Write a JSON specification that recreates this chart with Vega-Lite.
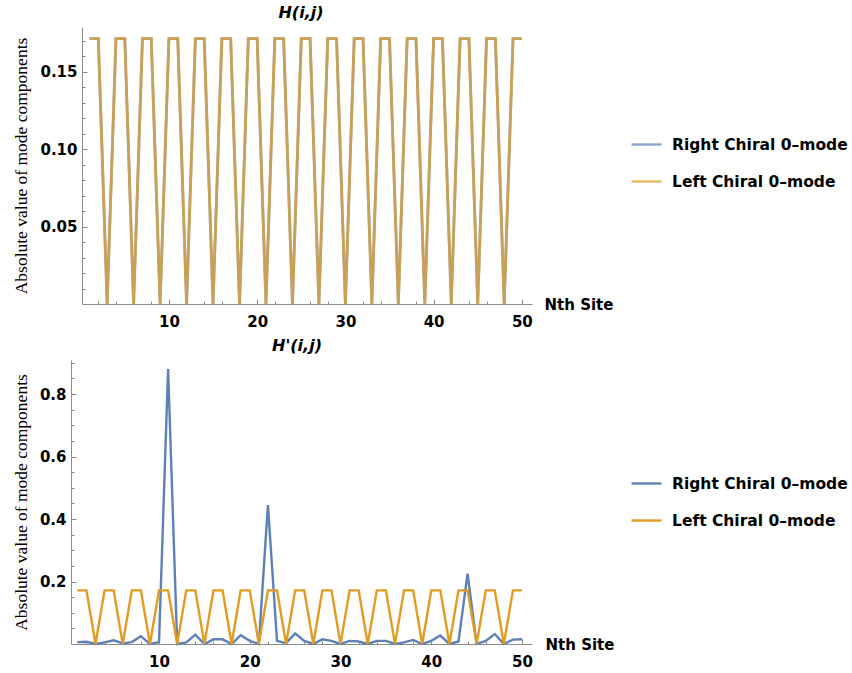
{
  "$schema": "https://vega.github.io/schema/vega-lite/v6.json",
  "padding": {"left": 12, "top": 5, "right": 0, "bottom": 0},
  "background": "white",
  "spacing": 9,
  "config": {
    "view": {"stroke": null},
    "axis": {"labelFont": "DejaVu Sans", "labelFontWeight": "bold", "labelFontSize": 15, "labelColor": "#000", "domainColor": "#8c8c8c", "tickColor": "#8c8c8c", "grid": false, "titleColor": "#000", "labelOverlap": false, "labelFlush": false}
  },
  "datasets": {
    "top": [
      {"site":1,"right":0.1715,"left":0.1715},{"site":2,"right":0.1715,"left":0.1715},{"site":3,"right":0,"left":0},
      {"site":4,"right":0.1715,"left":0.1715},{"site":5,"right":0.1715,"left":0.1715},{"site":6,"right":0,"left":0},
      {"site":7,"right":0.1715,"left":0.1715},{"site":8,"right":0.1715,"left":0.1715},{"site":9,"right":0,"left":0},
      {"site":10,"right":0.1715,"left":0.1715},{"site":11,"right":0.1715,"left":0.1715},{"site":12,"right":0,"left":0},
      {"site":13,"right":0.1715,"left":0.1715},{"site":14,"right":0.1715,"left":0.1715},{"site":15,"right":0,"left":0},
      {"site":16,"right":0.1715,"left":0.1715},{"site":17,"right":0.1715,"left":0.1715},{"site":18,"right":0,"left":0},
      {"site":19,"right":0.1715,"left":0.1715},{"site":20,"right":0.1715,"left":0.1715},{"site":21,"right":0,"left":0},
      {"site":22,"right":0.1715,"left":0.1715},{"site":23,"right":0.1715,"left":0.1715},{"site":24,"right":0,"left":0},
      {"site":25,"right":0.1715,"left":0.1715},{"site":26,"right":0.1715,"left":0.1715},{"site":27,"right":0,"left":0},
      {"site":28,"right":0.1715,"left":0.1715},{"site":29,"right":0.1715,"left":0.1715},{"site":30,"right":0,"left":0},
      {"site":31,"right":0.1715,"left":0.1715},{"site":32,"right":0.1715,"left":0.1715},{"site":33,"right":0,"left":0},
      {"site":34,"right":0.1715,"left":0.1715},{"site":35,"right":0.1715,"left":0.1715},{"site":36,"right":0,"left":0},
      {"site":37,"right":0.1715,"left":0.1715},{"site":38,"right":0.1715,"left":0.1715},{"site":39,"right":0,"left":0},
      {"site":40,"right":0.1715,"left":0.1715},{"site":41,"right":0.1715,"left":0.1715},{"site":42,"right":0,"left":0},
      {"site":43,"right":0.1715,"left":0.1715},{"site":44,"right":0.1715,"left":0.1715},{"site":45,"right":0,"left":0},
      {"site":46,"right":0.1715,"left":0.1715},{"site":47,"right":0.1715,"left":0.1715},{"site":48,"right":0,"left":0},
      {"site":49,"right":0.1715,"left":0.1715},{"site":50,"right":0.1715,"left":0.1715}
    ],
    "bottom": [
      {"site":1,"right":0.006,"left":0.1715},{"site":2,"right":0.007,"left":0.1715},{"site":3,"right":0,"left":0},
      {"site":4,"right":0.005,"left":0.1715},{"site":5,"right":0.012,"left":0.1715},{"site":6,"right":0.002,"left":0},
      {"site":7,"right":0.006,"left":0.1715},{"site":8,"right":0.025,"left":0.1715},{"site":9,"right":0,"left":0},
      {"site":10,"right":0.006,"left":0.1715},{"site":11,"right":0.88,"left":0.1715},{"site":12,"right":0,"left":0},
      {"site":13,"right":0.005,"left":0.1715},{"site":14,"right":0.03,"left":0.1715},{"site":15,"right":0,"left":0},
      {"site":16,"right":0.015,"left":0.1715},{"site":17,"right":0.015,"left":0.1715},{"site":18,"right":0,"left":0},
      {"site":19,"right":0.028,"left":0.1715},{"site":20,"right":0.01,"left":0.1715},{"site":21,"right":0,"left":0},
      {"site":22,"right":0.445,"left":0.1715},{"site":23,"right":0.01,"left":0.1715},{"site":24,"right":0.003,"left":0},
      {"site":25,"right":0.034,"left":0.1715},{"site":26,"right":0.01,"left":0.1715},{"site":27,"right":0,"left":0},
      {"site":28,"right":0.015,"left":0.1715},{"site":29,"right":0.01,"left":0.1715},{"site":30,"right":0,"left":0},
      {"site":31,"right":0.01,"left":0.1715},{"site":32,"right":0.008,"left":0.1715},{"site":33,"right":0,"left":0},
      {"site":34,"right":0.01,"left":0.1715},{"site":35,"right":0.01,"left":0.1715},{"site":36,"right":0,"left":0},
      {"site":37,"right":0.005,"left":0.1715},{"site":38,"right":0.013,"left":0.1715},{"site":39,"right":0,"left":0},
      {"site":40,"right":0.01,"left":0.1715},{"site":41,"right":0.027,"left":0.1715},{"site":42,"right":0,"left":0},
      {"site":43,"right":0.008,"left":0.1715},{"site":44,"right":0.225,"left":0.1715},{"site":45,"right":0,"left":0},
      {"site":46,"right":0.01,"left":0.1715},{"site":47,"right":0.032,"left":0.1715},{"site":48,"right":0,"left":0},
      {"site":49,"right":0.014,"left":0.1715},{"site":50,"right":0.015,"left":0.1715}
    ]
  },
  "vconcat": [
    {
      "width": 450,
      "height": 277,
      "title": {"text": "H(i,j)", "font": "DejaVu Sans", "fontSize": 16, "fontWeight": "bold", "fontStyle": "italic", "frame": "group", "anchor": "middle", "offset": 6, "dx": -6, "color": "#000"},
      "data": {"name": "top"},
      "transform": [{"fold": ["right", "left"], "as": ["mode", "value"]}],
      "layer": [
        {
          "mark": {"type": "line", "strokeWidth": 2.8, "opacity": 0.7},
          "encoding": {
            "x": {"field": "site", "type": "quantitative", "scale": {"domain": [0.15, 51.15], "nice": false, "zero": false},
              "axis": {"values": [10, 20, 30, 40, 50], "tickSize": -5, "labelPadding": 15, "title": "Nth Site", "titleFont": "DejaVu Sans", "titleFontWeight": "bold", "titleFontSize": 15, "titleX": 462, "titleY": 0, "titleAlign": "left", "titleBaseline": "middle", "titleAngle": 0}},
            "y": {"field": "value", "type": "quantitative", "scale": {"domain": [0, 0.179], "nice": false},
              "axis": {"values": [0.05, 0.1, 0.15], "format": ".2f", "tickSize": -5, "labelPadding": 10, "title": "Absolute value of mode components", "titleFont": "Liberation Serif", "titleFontWeight": "normal", "titleFontSize": 17.5, "titlePadding": 9}},
            "color": {"field": "mode", "type": "nominal",
              "scale": {"domain": ["right", "left"], "range": ["#5e81b5", "#e19c24"]},
              "legend": {"orient": "none", "legendX": 548, "legendY": 101, "title": null, "symbolType": "stroke", "symbolSize": 900, "symbolStrokeWidth": 2.4, "symbolOpacity": 0.7, "labelFont": "DejaVu Sans", "labelFontWeight": "bold", "labelFontSize": 15.5, "labelColor": "#000", "labelOffset": 9, "labelLimit": 0, "rowPadding": 12,
                "labelExpr": "datum.label == 'right' ? 'Right Chiral 0–mode' : 'Left Chiral 0–mode'"}}
          }
        },
        {
          "mark": {"type": "point", "opacity": 0},
          "encoding": {
            "x": {"field": "site", "type": "quantitative", "axis": {"orient": "bottom", "values": [2,4,6,8,12,14,16,18,22,24,26,28,32,34,36,38,42,44,46,48], "tickSize": -3, "labels": false, "domain": false, "title": null}},
            "y": {"field": "value", "type": "quantitative", "axis": {"orient": "left", "values": [0.01,0.02,0.03,0.04,0.06,0.07,0.08,0.09,0.11,0.12,0.13,0.14,0.16,0.17], "tickSize": -3, "labels": false, "domain": false, "title": null}}
          }
        }
      ],
      "resolve": {"axis": {"x": "independent", "y": "independent"}}
    },
    {
      "width": 450,
      "height": 284,
      "title": {"text": "H'(i,j)", "font": "DejaVu Sans", "fontSize": 16, "fontWeight": "bold", "fontStyle": "italic", "frame": "group", "anchor": "middle", "offset": 6, "dx": -10, "color": "#000"},
      "data": {"name": "bottom"},
      "transform": [{"fold": ["right", "left"], "as": ["mode", "value"]}],
      "layer": [
        {
          "mark": {"type": "line", "strokeWidth": 2.4},
          "encoding": {
            "x": {"field": "site", "type": "quantitative", "scale": {"domain": [0.3, 51.1], "range": [-11, 450], "nice": false, "zero": false},
              "axis": {"values": [10, 20, 30, 40, 50], "tickSize": -5, "labelPadding": 15, "title": "Nth Site", "titleFont": "DejaVu Sans", "titleFontWeight": "bold", "titleFontSize": 15, "titleX": 463, "titleY": 0, "titleAlign": "left", "titleBaseline": "middle", "titleAngle": 0}},
            "y": {"field": "value", "type": "quantitative", "scale": {"domain": [0, 0.909], "nice": false},
              "axis": {"offset": 11, "values": [0.2, 0.4, 0.6, 0.8], "format": ".1f", "tickSize": -5, "labelPadding": 10, "title": "Absolute value of mode components", "titleFont": "Liberation Serif", "titleFontWeight": "normal", "titleFontSize": 17.5, "titlePadding": 9}},
            "color": {"field": "mode", "type": "nominal",
              "scale": {"domain": ["right", "left"], "range": ["#5e81b5", "#e19c24"]},
              "legend": {"orient": "none", "legendX": 548, "legendY": 107, "title": null, "symbolType": "stroke", "symbolSize": 900, "symbolStrokeWidth": 2.4, "labelFont": "DejaVu Sans", "labelFontWeight": "bold", "labelFontSize": 15.5, "labelColor": "#000", "labelOffset": 9, "labelLimit": 0, "rowPadding": 12,
                "labelExpr": "datum.label == 'right' ? 'Right Chiral 0–mode' : 'Left Chiral 0–mode'"}}
          }
        },
        {
          "mark": {"type": "point", "opacity": 0},
          "encoding": {
            "x": {"field": "site", "type": "quantitative", "axis": {"orient": "bottom", "values": [2,4,6,8,12,14,16,18,22,24,26,28,32,34,36,38,42,44,46,48], "tickSize": -3, "labels": false, "domain": false, "title": null}},
            "y": {"field": "value", "type": "quantitative", "axis": {"orient": "left", "offset": 11, "values": [0.05,0.1,0.15,0.25,0.3,0.35,0.45,0.5,0.55,0.65,0.7,0.75,0.85,0.9], "tickSize": -3, "labels": false, "domain": false, "title": null}}
          }
        }
      ],
      "resolve": {"axis": {"x": "independent", "y": "independent"}}
    }
  ],
  "resolve": {"scale": {"x": "independent", "y": "independent", "color": "independent"}, "legend": {"color": "independent"}}
}
